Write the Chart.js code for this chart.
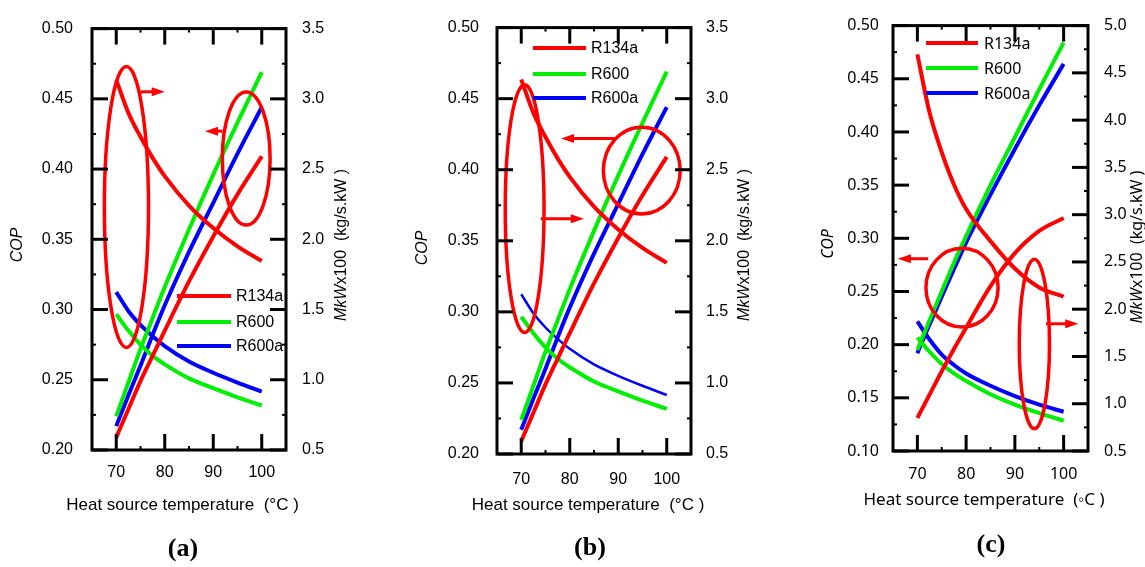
<!DOCTYPE html>
<html>
<head>
<meta charset="utf-8">
<script src="https://cdn.jsdelivr.net/npm/chart.js@4.4.0/dist/chart.umd.min.js"></script>
<style>
  html, body { margin: 0; padding: 0; background: #fff; }
  #wrap { position: relative; width: 1145px; height: 567px; overflow: hidden; }
  #wrap canvas { position: absolute; left: 0; top: 0; }
  .tag { position: absolute; font: bold 26px "Liberation Serif", "Times New Roman", serif; transform: translate(-50%, -50%); color: #000; }
</style>
</head>
<body>
<div id="wrap">
  <canvas id="chart-a" width="1145" height="567"></canvas>
  <canvas id="chart-b" width="1145" height="567"></canvas>
  <canvas id="chart-c" width="1145" height="567"></canvas>
  <div class="tag" style="left:183px;top:548px">(a)</div>
  <div class="tag" style="left:590px;top:547px">(b)</div>
  <div class="tag" style="left:991px;top:544px">(c)</div>
</div>
<script>
// heat source temperature (°C)
const temps = [70, 72.5, 75, 77.5, 80, 85, 90, 95, 100];
const refrigerants = ['R134a', 'R600', 'R600a'];

// panels (a) and (b) show the same results
const copAB_R134a = [0.209, 0.229, 0.249, 0.267, 0.285, 0.320, 0.352, 0.382, 0.409];
const copAB_R600  = [0.224, 0.248, 0.272, 0.294, 0.316, 0.357, 0.396, 0.433, 0.469];
const copAB_R600a = [0.217, 0.239, 0.260, 0.282, 0.303, 0.341, 0.376, 0.411, 0.444];
const mkAB_R134a  = [3.135, 2.90, 2.73, 2.58, 2.45, 2.24, 2.08, 1.95, 1.845];
const mkAB_R600   = [1.466, 1.35, 1.25, 1.17, 1.11, 1.01, 0.94, 0.875, 0.817];
const mkAB_R600a  = [1.624, 1.49, 1.39, 1.31, 1.24, 1.13, 1.05, 0.98, 0.915];

// panel (c)
const copC_R134a = [0.131, 0.153, 0.175, 0.196, 0.216, 0.255, 0.286, 0.307, 0.319];
const copC_R600  = [0.195, 0.223, 0.250, 0.277, 0.302, 0.350, 0.395, 0.440, 0.484];
const copC_R600a = [0.192, 0.219, 0.245, 0.271, 0.296, 0.341, 0.384, 0.425, 0.464];
const mkC_R134a  = [4.695, 4.08, 3.66, 3.32, 3.06, 2.72, 2.43, 2.23, 2.133];
const mkC_R600   = [1.70, 1.55, 1.42, 1.32, 1.24, 1.10, 0.99, 0.90, 0.82];
const mkC_R600a  = [1.87, 1.68, 1.52, 1.41, 1.32, 1.19, 1.08, 0.99, 0.915];

// tick labels
const tempTicks = [70, 80, 90, 100];
const copTicksAB = [0.20, 0.25, 0.30, 0.35, 0.40, 0.45, 0.50];
const mkTicksAB = [0.5, 1.0, 1.5, 2.0, 2.5, 3.0, 3.5];
const copTicksC = [0.10, 0.15, 0.20, 0.25, 0.30, 0.35, 0.40, 0.45, 0.50];
const mkTicksC = [0.5, 1.0, 1.5, 2.0, 2.5, 3.0, 3.5, 4.0, 4.5, 5.0];

// axis call-outs, in data units (°C, COP): [cx, cy, rx, ry] and [x1, x2, y]
const ellipsesA = [[72.1, 0.373, 4.55, 0.100], [96.8, 0.4075, 4.93, 0.0474]];
const arrowsA = [[75.0, 80.0, 0.455], [91.9, 88.3, 0.427]];
const ellipsesB = [[70.7, 0.3726, 4.0, 0.0872], [94.85, 0.3994, 7.92, 0.0305]];
const arrowsB = [[89.3, 78.2, 0.4219], [74.0, 82.9, 0.3656]];
const ellipsesC = [[79.16, 0.2536, 7.4, 0.037], [94.0, 0.2007, 3.1, 0.0797]];
const arrowsC = [[72.2, 66.0, 0.2808], [96.4, 103.0, 0.2196]];

const lineColors = ['#ff0000', '#00ee00', '#0000ff'];
const W = 1145, H = 567;

const panels = [
  { id: 'chart-a', area: { l: 92, t: 19, r: 286, b: 450 },
    cop: [copAB_R134a, copAB_R600, copAB_R600a], mk: [mkAB_R134a, mkAB_R600, mkAB_R600a],
    copTicks: copTicksAB, mkTicks: mkTicksAB, mkWidths: [4, 4, 4],
    family: '"Liberation Sans", Arial, sans-serif', size: 16, padL: 19, padR: 16, padX: 13,
    legend: { x1: 177, x2: 231, tx: 236, ys: [296, 322, 346] },
    copTitle: [18, 245], mkTitle: [342, 245], xTitle: [182.5, 505], xText: 'Heat source temperature  (°C )',
    ellipses: ellipsesA, arrows: arrowsA },
  { id: 'chart-b', area: { l: 497, t: 24, r: 691, b: 454 },
    cop: [copAB_R134a, copAB_R600, copAB_R600a], mk: [mkAB_R134a, mkAB_R600, mkAB_R600a],
    copTicks: copTicksAB, mkTicks: mkTicksAB, mkWidths: [4, 4, 2.5],
    family: '"Liberation Sans", Arial, sans-serif', size: 16, padL: 18, padR: 15, padX: 16,
    legend: { x1: 533, x2: 586, tx: 591, ys: [48, 74, 98] },
    copTitle: [423, 248], mkTitle: [745, 245], xTitle: [588, 505], xText: 'Heat source temperature  (°C )',
    ellipses: ellipsesB, arrows: arrowsB },
  { id: 'chart-c', area: { l: 893, t: 19, r: 1088, b: 451 },
    cop: [copC_R134a, copC_R600, copC_R600a], mk: [mkC_R134a, mkC_R600, mkC_R600a],
    copTicks: copTicksC, mkTicks: mkTicksC, mkWidths: [4, 4, 4],
    family: '"Noto Sans", sans-serif', size: 16, padL: 14, padR: 16, padX: 14,
    legend: { x1: 926, x2: 978, tx: 984, ys: [43, 68, 93] },
    copTitle: [828, 244], mkTitle: [1137, 247], xTitle: [984, 500], xText: 'Heat source temperature  (\u25E6C )',
    ellipses: ellipsesC, arrows: arrowsC }
];

const fixedTicks = (vals) => (scale) => { scale.ticks = vals.map(v => ({ value: v })); };

const framePlugin = {
  id: 'frame',
  afterDatasetsDraw(chart) {
    const p = chart.options.plugins.frame;
    const { ctx, chartArea: a, scales } = chart;
    const sx = scales.x, sl = scales.yCop, sr = scales.yMk;
    ctx.save();
    ctx.strokeStyle = '#ff0000';
    ctx.fillStyle = '#ff0000';
    ctx.lineWidth = 3.5;
    p.ellipses.forEach(([cx, cy, rx, ry]) => {
      const px = sx.getPixelForValue(cx), py = sl.getPixelForValue(cy);
      const prx = Math.abs(sx.getPixelForValue(cx + rx) - px);
      const pry = Math.abs(sl.getPixelForValue(cy + ry) - py);
      ctx.beginPath();
      ctx.ellipse(px, py, prx, pry, 0, 0, Math.PI * 2);
      ctx.stroke();
    });
    ctx.lineWidth = 3;
    p.arrows.forEach(([x1, x2, y]) => {
      const p1 = sx.getPixelForValue(x1), p2 = sx.getPixelForValue(x2), py = sl.getPixelForValue(y);
      const dir = Math.sign(p2 - p1);
      ctx.beginPath(); ctx.moveTo(p1, py); ctx.lineTo(p2 - dir * 6, py); ctx.stroke();
      ctx.beginPath();
      ctx.moveTo(p2, py); ctx.lineTo(p2 - dir * 13, py - 4.5); ctx.lineTo(p2 - dir * 13, py + 4.5);
      ctx.closePath(); ctx.fill();
    });

    // frame and inward ticks
    ctx.strokeStyle = '#000';
    ctx.lineWidth = 3;
    ctx.strokeRect(a.left, a.top, a.right - a.left, a.bottom - a.top);
    const tick = (x1, y1, x2, y2) => { ctx.beginPath(); ctx.moveTo(x1, y1); ctx.lineTo(x2, y2); ctx.stroke(); };
    const mids = (vals) => vals.slice(1).map((v, i) => (v + vals[i]) / 2);
    const xs = sx.ticks.map(t => t.value);
    const ls = sl.ticks.map(t => t.value);
    const rs = sr.ticks.map(t => t.value);
    ctx.lineWidth = 3;
    xs.forEach(v => { const x = sx.getPixelForValue(v); tick(x, a.bottom, x, a.bottom - 16); tick(x, a.top, x, a.top + 16); });
    ls.forEach(v => { const y = sl.getPixelForValue(v); tick(a.left, y, a.left + 16, y); });
    rs.forEach(v => { const y = sr.getPixelForValue(v); tick(a.right, y, a.right - 16, y); });
    ctx.lineWidth = 2;
    mids(xs).forEach(v => { const x = sx.getPixelForValue(v); tick(x, a.bottom, x, a.bottom - 4); tick(x, a.top, x, a.top + 4); });
    mids(ls).forEach(v => { const y = sl.getPixelForValue(v); tick(a.left, y, a.left + 4, y); });
    mids(rs).forEach(v => { const y = sr.getPixelForValue(v); tick(a.right, y, a.right - 4, y); });

    // legend
    const lg = p.legend;
    ctx.font = `${p.size}px ${p.family}`;
    ctx.textBaseline = 'middle';
    ctx.textAlign = 'left';
    ctx.fillStyle = '#000';
    ctx.lineWidth = 4;
    refrigerants.forEach((name, i) => {
      ctx.strokeStyle = lineColors[i];
      tick(lg.x1, lg.ys[i], lg.x2, lg.ys[i]);
      ctx.fillText(name, lg.tx, lg.ys[i] + 1);
    });

    // axis titles
    ctx.textAlign = 'center';
    ctx.font = `${p.size + 1}px ${p.family}`;
    ctx.fillText(p.xText, p.xTitle[0], p.xTitle[1]);
    ctx.save();
    ctx.translate(p.copTitle[0], p.copTitle[1]);
    ctx.rotate(-Math.PI / 2);
    ctx.font = `italic ${p.size}px ${p.family}`;
    ctx.fillText('COP', 0, 0);
    ctx.restore();
    ctx.save();
    ctx.translate(p.mkTitle[0], p.mkTitle[1]);
    ctx.rotate(-Math.PI / 2);
    const itFont = `italic ${p.size}px ${p.family}`, rgFont = `${p.size}px ${p.family}`;
    const part1 = 'MkW', part2 = 'x100  (kg/s.kW )';
    ctx.font = itFont; const w1 = ctx.measureText(part1).width;
    ctx.font = rgFont; const w2 = ctx.measureText(part2).width;
    ctx.textAlign = 'left';
    ctx.font = itFont; ctx.fillText(part1, -(w1 + w2) / 2, 0);
    ctx.font = rgFont; ctx.fillText(part2, -(w1 + w2) / 2 + w1, 0);
    ctx.restore();
    ctx.restore();
  }
};

function makePanel(p) {
  const font = { family: p.family, size: p.size };
  const datasets = [];
  refrigerants.forEach((name, i) => {
    datasets.push({
      label: name + ' COP', yAxisID: 'yCop',
      data: temps.map((t, k) => ({ x: t, y: p.cop[i][k] })),
      borderColor: lineColors[i], borderWidth: 4
    });
    datasets.push({
      label: name + ' Mk/W', yAxisID: 'yMk',
      data: temps.map((t, k) => ({ x: t, y: p.mk[i][k] })),
      borderColor: lineColors[i], borderWidth: p.mkWidths[i]
    });
  });
  datasets.forEach(d => Object.assign(d, { pointRadius: 0, fill: false, tension: 0.4, cubicInterpolationMode: 'monotone' }));

  const copT = p.copTicks, mkT = p.mkTicks;
  const noGrid = { display: false, drawTicks: false };
  return new Chart(document.getElementById(p.id), {
    type: 'line',
    data: { datasets },
    plugins: [framePlugin],
    options: {
      responsive: false,
      animation: false,
      events: [],
      layout: { padding: { left: p.area.l - 60, right: W - p.area.r - 60, top: p.area.t, bottom: H - p.area.b - 40 } },
      plugins: { legend: { display: false }, tooltip: { enabled: false }, frame: p },
      scales: {
        x: {
          type: 'linear', min: 65, max: 105,
          afterBuildTicks: fixedTicks(tempTicks),
          afterFit: s => { s.height = 40; },
          grid: noGrid, border: { display: false },
          ticks: { font, color: '#000', padding: p.padX, maxRotation: 0, autoSkip: false, callback: v => String(v) }
        },
        yCop: {
          position: 'left', min: copT[0], max: copT[copT.length - 1],
          afterBuildTicks: fixedTicks(copT),
          afterFit: s => { s.width = 60; },
          grid: noGrid, border: { display: false },
          ticks: { font, color: '#000', padding: p.padL, autoSkip: false, callback: v => v.toFixed(2) }
        },
        yMk: {
          position: 'right', min: mkT[0], max: mkT[mkT.length - 1],
          afterBuildTicks: fixedTicks(mkT),
          afterFit: s => { s.width = 60; },
          grid: noGrid, border: { display: false },
          ticks: { font, color: '#000', padding: p.padR, autoSkip: false, callback: v => v.toFixed(1) }
        }
      }
    }
  });
}

panels.forEach(makePanel);
</script>
</body>
</html>
